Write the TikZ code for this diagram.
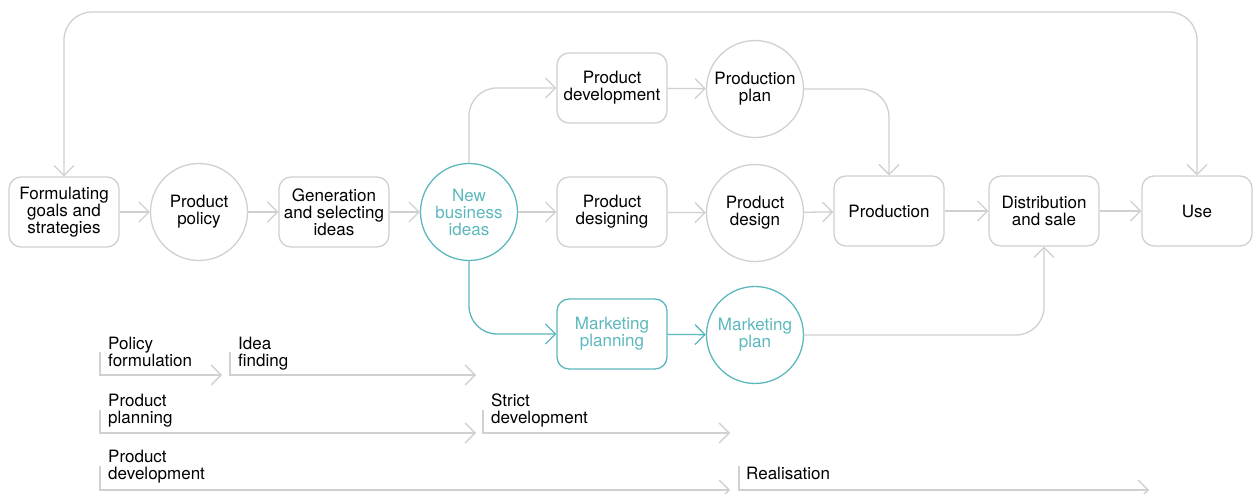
\documentclass[tikz,border=0pt]{standalone}
\usepackage{fontspec}
\setmainfont{TeX Gyre Heros}
\usetikzlibrary{arrows.meta}
\definecolor{linegray}{RGB}{208,208,208}
\definecolor{ideateal}{RGB}{92,184,189}

\begin{document}
\begin{tikzpicture}[
  x=1pt, y=-1pt,
  every node/.style={
    align=center,
    font=\fontsize{17}{17}\selectfont,
  },
  box/.style={draw=linegray, line width=1.3pt, rounded corners=12pt,
    minimum width=110pt, minimum height=70pt, inner sep=2pt},
  disc/.style={draw=linegray, line width=1.3pt, circle,
    minimum size=97pt, inner sep=0pt},
  hot/.style={draw=ideateal, text=ideateal},
  phase/.style={anchor=north west, align=left, inner sep=0pt},
  every path/.style={>={Straight Barb[length=10pt,width=20pt]}},
  link/.style={draw=linegray, line width=1.3pt, ->, rounded corners=28pt},
  phasebar/.style={draw=linegray, line width=1.3pt, ->},
  ]
  \useasboundingbox (0,0) rectangle (1253,494);

  \node[box] (goals) at (64,212) {Formulating\\goals and\\strategies};
  \node[disc] (policy) at (199,212) {Product\\policy};
  \node[box] (ideas) at (334,212) {Generation\\and selecting\\ideas};
  \node[disc,hot] (newbiz) at (469,212) {New\\business\\ideas};
  \node[box] (proddev) at (612,88) {Product\\development};
  \node[disc] (prodplan) at (755,89) {Production\\plan};
  \node[box] (designing) at (612,212) {Product\\designing};
  \node[disc] (design) at (755,213) {Product\\design};
  \node[box] (production) at (889,211) {Production};
  \node[box] (distrib) at (1044,211) {Distribution\\and sale};
  \node[box] (use) at (1197,211) {Use};
  \node[box,hot] (mktplanning) at (612,334) {Marketing\\planning};
  \node[disc,hot] (mktplan) at (755,335) {Marketing\\plan};

  \coordinate (topleft) at (64,12);
  \coordinate (topright) at (1197,12);

  \path[link]
  (goals) edge (policy)
  (policy) edge (ideas)
  (ideas) edge (newbiz)
  (newbiz) edge (designing)
  (designing) edge (design)
  (design) edge (production)
  (production) edge (distrib)
  (distrib) edge (use)
  (proddev) edge (prodplan);
  \draw[link,<->] (goals.north) -- (topleft) -- (topright) -- (use.north);
  \draw[link] (newbiz.north) |- (proddev.west);
  \draw[link,draw=ideateal] (newbiz.south) |- (mktplanning.west);
  \draw[link,draw=ideateal] (mktplanning) -- (mktplan);
  \draw[link] (prodplan.east) -| (production.north);
  \draw[link] (mktplan.east) -| (distrib.south);

  \node[phase] (policyform) at (108,337) {Policy\\formulation};
  \node[phase] (ideafind) at (238,337) {Idea\\finding};
  \node[phase] (prodplanning) at (108,394) {Product\\planning};
  \node[phase] (strictdev) at (491,394) {Strict\\development};
  \node[phase] (proddevphase) at (108,450) {Product\\development};
  \node[phase] (realise) at (746,467) {Realisation};

  \coordinate (policyform-s) at (100,352);
  \coordinate (policyform-e) at (222,375);
  \coordinate (ideafind-s) at (230,352);
  \coordinate (ideafind-e) at (476,375);
  \coordinate (prodplanning-s) at (100,410);
  \coordinate (prodplanning-e) at (476,433);
  \coordinate (strictdev-s) at (483,410);
  \coordinate (strictdev-e) at (730,433);
  \coordinate (proddevphase-s) at (100,466);
  \coordinate (proddevphase-e) at (730,490);
  \coordinate (realise-s) at (739,466);
  \coordinate (realise-e) at (1149,490);

  \draw[phasebar] (policyform-s) |- (policyform-e);
  \draw[phasebar] (ideafind-s) |- (ideafind-e);
  \draw[phasebar] (prodplanning-s) |- (prodplanning-e);
  \draw[phasebar] (strictdev-s) |- (strictdev-e);
  \draw[phasebar] (proddevphase-s) |- (proddevphase-e);
  \draw[phasebar] (realise-s) |- (realise-e);
\end{tikzpicture}
\end{document}
